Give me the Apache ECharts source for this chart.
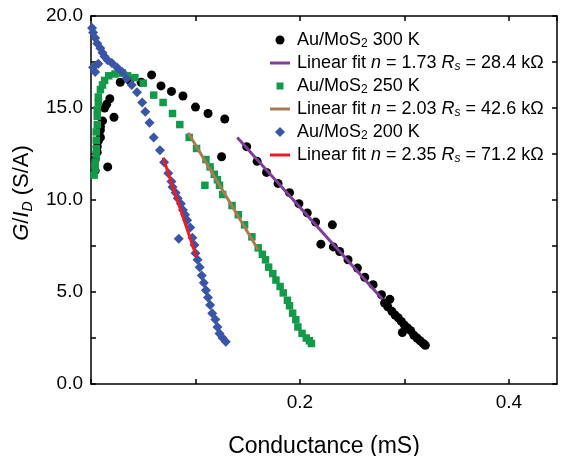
<!DOCTYPE html>
<html>
<head>
<meta charset="utf-8">
<script src="https://cdn.jsdelivr.net/npm/echarts@6/dist/echarts.min.js"></script>
<style>
html,body{margin:0;padding:0;background:#fff;}
#chart{width:561px;height:456px;}
</style>
</head>
<body>
<div id="chart"></div>
<script>
// ---- Data (conductance in mS, G/I_D in S/A) ----
var g300 = [0.004,0.016,0.004,0.006,0.006,0.007,0.009,0.009,0.009,0.011,0.022,0.013,0.015,0.018,0.028,0.037,0.048,0.058,0.067,0.077,0.088,0.100,0.112,0.128,0.125,
  0.149,0.159,0.168,0.179,0.190,0.199,0.207,0.215,0.231,0.220,0.232,0.238,0.246,0.255,0.262,0.270,0.278,0.286,0.281,0.284,0.288,0.291,0.294,0.298,0.297,0.300,0.303,0.306,0.309,0.312,0.315,0.318,0.320];
var r300 = [11.6,11.8,12.2,12.6,12.9,13.2,13.4,13.8,14.0,14.3,14.5,15.0,15.2,15.5,16.4,16.5,16.4,16.8,16.2,15.9,15.65,15.05,14.7,14.4,12.35,
  12.9,12.1,11.5,10.9,10.4,9.8,9.3,8.8,8.65,7.6,7.45,7.2,6.75,6.3,5.8,5.4,4.85,4.6,4.4,4.2,3.95,3.75,3.6,2.8,3.4,3.2,3.05,2.9,2.65,2.5,2.35,2.2,2.1];

var g250 = [0.003,0.004,0.004,0.005,0.005,0.005,0.005,0.006,0.006,0.006,0.007,0.007,0.009,0.011,0.013,0.017,0.023,0.030,0.035,0.042,0.050,0.060,0.069,0.078,0.085,0.094,0.101,0.110,0.114,0.118,0.121,
  0.109,0.123,0.126,0.135,0.141,0.147,0.154,0.160,0.164,0.167,0.170,0.174,0.177,0.181,0.184,0.188,0.190,0.193,0.196,0.198,0.202,0.206,0.209,0.211];
var r250 = [11.35,11.7,12.05,12.45,12.8,13.25,13.7,14.1,14.55,14.9,15.3,15.6,16.0,16.25,16.5,16.75,16.85,16.9,16.75,16.65,16.35,15.7,15.3,14.7,14.1,13.4,12.8,12.2,11.8,11.4,11.1,
  10.8,10.8,10.3,9.7,9.2,8.65,8.0,7.4,7.05,6.75,6.35,6.0,5.65,5.3,4.95,4.55,4.25,3.85,3.5,3.1,2.75,2.5,2.35,2.2];

var g200 = [0.001,0.002,0.004,0.006,0.009,0.011,0.013,0.016,0.020,0.002,0.004,0.007,0.025,0.030,0.034,0.039,0.044,0.049,0.052,0.056,0.060,0.066,0.070,0.074,0.077,0.078,0.081,0.083,0.086,0.088,0.090,0.092,
  0.084,0.095,0.097,0.099,0.100,0.102,0.104,0.106,0.108,0.110,0.112,0.114,0.116,0.119,0.121,0.123,0.126,0.129];
var r200 = [19.35,19.1,18.8,18.5,18.25,18.0,17.8,17.6,17.45,17.2,16.95,17.4,17.2,16.95,16.6,16.25,15.85,15.3,14.8,14.2,13.4,12.7,12.05,11.45,11.0,10.7,10.4,10.1,9.8,9.45,9.2,8.9,
  7.9,8.5,7.95,7.55,7.1,6.75,6.35,5.9,5.5,5.1,4.7,4.3,3.85,3.5,3.1,2.75,2.5,2.3];

var fit300x = [0.140, 0.279], fit300y = [13.4, 4.6];
var fit250x = [0.093, 0.160], fit250y = [13.65, 7.3];
var fit200x = [0.069, 0.101], fit200y = [12.3, 6.9];

var xTickLabels = [0.2, 0.4];
var yTickLabels = [0, 5, 10, 15, 20];

var legendTexts = {
  s300: '{n|Au/MoS}{sub|2}{n| 300 K}',
  f300: '{n|Linear fit }{i|n}{n| = 1.73 }{i|R}{isub|s}{n| = 28.4 kΩ}',
  s250: '{n|Au/MoS}{sub|2}{n| 250 K}',
  f250: '{n|Linear fit }{i|n}{n| = 2.03 }{i|R}{isub|s}{n| = 42.6 kΩ}',
  s200: '{n|Au/MoS}{sub|2}{n| 200 K}',
  f200: '{n|Linear fit }{i|n}{n| = 2.35 }{i|R}{isub|s}{n| = 71.2 kΩ}'
};
var LINE_ICON = 'path://M0,0 L20,0 L20,3 L0,3 Z';
var CIRCLE_ICON = 'path://M0,0 M10,10 M0.5,5 A4.5,4.5 0 1,0 9.5,5 A4.5,4.5 0 1,0 0.5,5 Z';
var SQUARE_ICON = 'path://M0,0 M10,10 M1.5,1.5 L8.5,1.5 L8.5,8.5 L1.5,8.5 Z';
var DIAMOND_ICON = 'path://M5,0 L10,5 L5,10 L0,5 Z';

function zip(a, b) { return a.map(function (v, i) { return [v, b[i]]; }); }
function near(v, list) { return list.some(function (t) { return Math.abs(v - t) < 1e-6; }); }

var FONT = '"Liberation Sans", Arial, sans-serif';
var chart = echarts.init(document.getElementById('chart'), null, {renderer: 'canvas'});

var axisCommon = {
  axisLine: {show: true, onZero: false, lineStyle: {color: '#000', width: 1.5}},
  axisTick: {show: true, inside: true, length: 5, lineStyle: {color: '#000', width: 1.5}},
  splitLine: {show: false}
};

var option = {
  backgroundColor: '#fff',
  animation: false,
  grid: {left: 91, right: 4, top: 16, bottom: 72, containLabel: false, outerBoundsMode: 'none'},
  legend: {
    orient: 'vertical',
    left: 270, top: 31, padding: 0,
    itemWidth: 20, itemHeight: 10, itemGap: 4,
    symbolKeepAspect: true,
    data: [
      {name: 's300', icon: CIRCLE_ICON},
      {name: 'f300', icon: LINE_ICON},
      {name: 's250', icon: SQUARE_ICON},
      {name: 'f250', icon: LINE_ICON},
      {name: 's200', icon: DIAMOND_ICON},
      {name: 'f200', icon: LINE_ICON}
    ],
    formatter: function (name) { return legendTexts[name]; },
    textStyle: {
      color: '#000', fontFamily: FONT, fontSize: 18, padding: [0, 0, 0, 2],
      rich: {
        n: {fontSize: 18, lineHeight: 20, fontFamily: FONT, color: '#000'},
        i: {fontSize: 18, lineHeight: 20, fontFamily: FONT, fontStyle: 'italic', color: '#000'},
        sub: {fontSize: 12, lineHeight: 12, fontFamily: FONT, verticalAlign: 'bottom', color: '#000'},
        isub: {fontSize: 12, lineHeight: 12, fontFamily: FONT, fontStyle: 'italic', verticalAlign: 'bottom', color: '#000'}
      }
    }
  },
  xAxis: [
    Object.assign({}, axisCommon, {
      type: 'value', position: 'bottom', min: 0, max: 0.446, interval: 0.1,
      axisLabel: {color: '#000', fontSize: 19, fontFamily: FONT, margin: 9,
        showMaxLabel: false,
        formatter: function (v) { return near(v, xTickLabels) ? v.toFixed(1) : ''; }},
      name: 'Conductance (mS)', nameLocation: 'middle', nameGap: 51,
      nameTextStyle: {color: '#000', fontSize: 23, fontFamily: FONT}
    }),
    Object.assign({}, axisCommon, {
      type: 'value', position: 'top', min: 0, max: 0.446, interval: 0.1,
      axisLabel: {show: false}
    })
  ],
  yAxis: [
    Object.assign({}, axisCommon, {
      type: 'value', position: 'left', min: 0, max: 20, interval: 2.5,
      axisLabel: {color: '#000', fontSize: 19, fontFamily: FONT, margin: 8,
        formatter: function (v) { return near(v, yTickLabels) ? v.toFixed(1) : ''; }},
      name: '{i|G}{n|/}{i|I}{isub|D}{n| (S/A)}', nameLocation: 'middle', nameGap: 55, nameRotate: 90,
      nameTextStyle: {color: '#000', fontSize: 22, fontFamily: FONT, padding: [0, 0, 0, 14],
        rich: {
          n: {fontSize: 22, lineHeight: 26, fontFamily: FONT, color: '#000'},
          i: {fontSize: 22, lineHeight: 26, fontFamily: FONT, fontStyle: 'italic', color: '#000'},
          isub: {fontSize: 14, lineHeight: 14, fontFamily: FONT, fontStyle: 'italic', verticalAlign: 'bottom', color: '#000'}
        }}
    }),
    Object.assign({}, axisCommon, {
      type: 'value', position: 'right', min: 0, max: 20, interval: 2.5,
      axisLabel: {show: false}
    })
  ],
  series: [
    {name: 's300', type: 'scatter', symbol: 'circle', symbolSize: 9,
     itemStyle: {color: '#000000', opacity: 1}, data: zip(g300, r300)},
    {name: 'f300', type: 'line', symbol: 'none', lineStyle: {color: '#7e3f98', width: 3},
     itemStyle: {color: '#7e3f98'}, data: zip(fit300x, fit300y)},
    {name: 's250', type: 'scatter', symbol: 'rect', symbolSize: 7.5,
     itemStyle: {color: '#13994a', opacity: 1}, data: zip(g250, r250)},
    {name: 'f250', type: 'line', symbol: 'none', lineStyle: {color: '#a67c52', width: 3},
     itemStyle: {color: '#a67c52'}, data: zip(fit250x, fit250y)},
    {name: 's200', type: 'scatter', symbol: 'diamond', symbolSize: 10,
     itemStyle: {color: '#3a55a6', opacity: 1}, data: zip(g200, r200)},
    {name: 'f200', type: 'line', symbol: 'none', lineStyle: {color: '#ed1c24', width: 3},
     itemStyle: {color: '#ed1c24'}, data: zip(fit200x, fit200y)}
  ]
};
chart.setOption(option);
</script>
</body>
</html>
